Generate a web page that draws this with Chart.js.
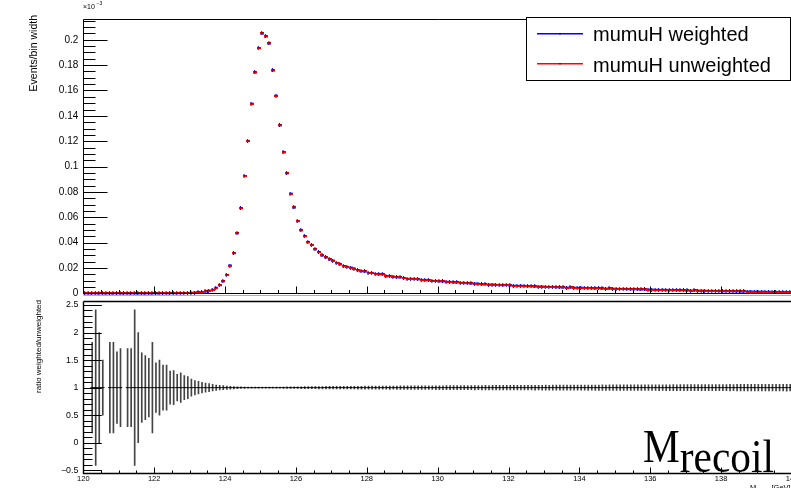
<!DOCTYPE html>
<html><head><meta charset="utf-8">
<script src="https://cdn.jsdelivr.net/npm/chart.js@4.4.1/dist/chart.umd.min.js"></script>
<style>
html,body{margin:0;padding:0;background:#fff;overflow:hidden;width:791px;height:488px;}
#wrap{position:relative;width:791px;height:488px;overflow:hidden;background:#fff;}
canvas{position:absolute;left:0;}
#c1{top:0;} #c2{top:296px;}
</style></head><body>
<div id="wrap"><canvas id="c1" width="800" height="300"></canvas><canvas id="c2" width="800" height="192"></canvas></div>
<script>
// ---- axis ranges / tick labels ----
const X_MIN = 120, X_MAX = 140, BIN_WIDTH = 0.1;
const xTicks = [120,122,124,126,128,130,132,134,136,138,140];
const xTickLabels = ['120','122','124','126','128','130','132','134','136','138','140'];
const yTopTicks = [0,0.02,0.04,0.06,0.08,0.1,0.12,0.14,0.16,0.18,0.2];
const yTopTickLabels = ['0','0.02','0.04','0.06','0.08','0.1','0.12','0.14','0.16','0.18','0.2'];
const yRatioTicks = [-0.5,0,0.5,1,1.5,2,2.5];
const yRatioTickLabels = ['\u22120.5','0','0.5','1','1.5','2','2.5'];

// ---- Events / bin width (units of 1e-3), 200 bins of 0.1 GeV from 120 to 140 ----
const weighted = [
0,0,0.00002,0.000005,0.00001,0.00004,0,0.00002,0.00002,0.00002,
0.00002,0,0.00002,0.00002,0.000005,0.00001,0.00003,0.00003,0.00004,0.00002,
0.00005,0.00004,0.00006,0.00006,0.00011,0.0001,0.00017,0.00014,0.0002,0.00025,
0.0004,0.0006,0.0008,0.0011,0.0015,0.0021,0.0028,0.0043,0.0064,0.0095,
0.0145,0.0219,0.0316,0.0474,0.0671,0.0925,0.1201,0.1496,0.1742,0.1934,
0.2050,0.2026,0.1971,0.1758,0.1559,0.1325,0.1112,0.0947,0.0786,0.0677,
0.0569,0.0497,0.0451,0.0403,0.0381,0.0348,0.0325,0.0299,0.0283,0.0267,
0.0258,0.0240,0.0229,0.0214,0.0208,0.0203,0.0195,0.0182,0.0174,0.0172,
0.0161,0.0161,0.0153,0.0150,0.0150,0.0135,0.0137,0.0132,0.0127,0.0127,
0.0121,0.0114,0.0114,0.0114,0.0111,0.0106,0.0103,0.0103,0.0098,0.0098,
0.0095,0.0094,0.0091,0.0090,0.0086,0.0087,0.0083,0.0082,0.0080,0.0078,
0.0077,0.0075,0.0071,0.0072,0.0069,0.0069,0.0066,0.0065,0.0064,0.0066,
0.0062,0.0060,0.0059,0.0060,0.0057,0.0056,0.0056,0.0054,0.0053,0.0053,
0.0051,0.0050,0.0050,0.0048,0.0047,0.0047,0.0045,0.0046,0.0044,0.0043,
0.0044,0.0042,0.0041,0.0041,0.0039,0.0040,0.0038,0.0037,0.0038,0.0036,
0.0035,0.0034,0.0035,0.0033,0.0032,0.0033,0.0031,0.0030,0.0030,0.0029,
0.0029,0.0028,0.0027,0.0028,0.0026,0.0026,0.0025,0.0025,0.0024,0.0024,
0.0023,0.0022,0.0023,0.0021,0.0021,0.0020,0.0019,0.0019,0.0018,0.0018,
0.0017,0.0017,0.0016,0.0016,0.0016,0.0015,0.0015,0.0014,0.0014,0.0013,
0.0013,0.0013,0.0012,0.0012,0.0011,0.0011,0.0011,0.0010,0.0010,0.0010
];
const unweighted = [
0,0,0.00002,0.000005,0.00001,0.00004,0,0.00002,0.00002,0.00002,
0.00002,0,0.00002,0.00002,0.000005,0.00001,0.00003,0.00003,0.00004,0.00002,
0.00005,0.00004,0.00006,0.00006,0.00011,0.0001,0.00017,0.00014,0.0002,0.00025,
0.0004,0.0006,0.0008,0.0011,0.0015,0.0021,0.0028,0.0043,0.0064,0.0095,
0.0145,0.0219,0.0316,0.0474,0.0671,0.0925,0.1201,0.1496,0.1742,0.1934,
0.2050,0.2026,0.1971,0.1758,0.1559,0.1325,0.1112,0.0947,0.0786,0.0677,
0.0569,0.0497,0.0451,0.0403,0.0381,0.0348,0.0325,0.0299,0.0283,0.0267,
0.0258,0.0240,0.0229,0.0214,0.0208,0.0203,0.0195,0.0182,0.0174,0.0172,
0.0161,0.0161,0.0153,0.0150,0.0150,0.0135,0.0137,0.0132,0.0127,0.0127,
0.0121,0.0114,0.0114,0.0114,0.0111,0.0106,0.0103,0.0103,0.0098,0.0098,
0.0095,0.0094,0.0091,0.0090,0.0086,0.0087,0.0083,0.0082,0.0080,0.0078,
0.0077,0.0075,0.0071,0.0072,0.0069,0.0069,0.0066,0.0065,0.0064,0.0066,
0.0062,0.0060,0.0059,0.0060,0.0057,0.0056,0.0056,0.0054,0.0053,0.0053,
0.0051,0.0050,0.0050,0.0048,0.0047,0.0047,0.0045,0.0046,0.0044,0.0043,
0.0044,0.0042,0.0041,0.0041,0.0039,0.0040,0.0038,0.0037,0.0038,0.0036,
0.0035,0.0034,0.0035,0.0033,0.0032,0.0033,0.0031,0.0030,0.0030,0.0029,
0.0029,0.0028,0.0027,0.0028,0.0026,0.0026,0.0025,0.0025,0.0024,0.0024,
0.0023,0.0022,0.0023,0.0021,0.0021,0.0020,0.0019,0.0019,0.0018,0.0018,
0.0017,0.0017,0.0016,0.0016,0.0016,0.0015,0.0015,0.0014,0.0014,0.0013,
0.0013,0.0013,0.0012,0.0012,0.0011,0.0011,0.0011,0.0010,0.0010,0.0010
];
// ---- ratio weighted/unweighted and its error (null = empty bin) ----
const ratio = [
null,null,1,1,1,1,null,1,1,1, 1,null,1,1,1,1,1,1,1,1,
1,1,1,1,1,1,1,1,1,1, 1,1,1,1,1,1,1,1,1,1,
1,1,1,1,1,1,1,1,1,1, 1,1,1,1,1,1,1,1,1,1,
1,1,1,1,1,1,1,1,1,1, 1,1,1,1,1,1,1,1,1,1,
1,1,1,1,1,1,1,1,1,1, 1,1,1,1,1,1,1,1,1,1,
1,1,1,1,1,1,1,1,1,1, 1,1,1,1,1,1,1,1,1,1,
1,1,1,1,1,1,1,1,1,1, 1,1,1,1,1,1,1,1,1,1,
1,1,1,1,1,1,1,1,1,1, 1,1,1,1,1,1,1,1,1,1,
1,1,1,1,1,1,1,1,1,1, 1,1,1,1,1,1,1,1,1,1,
1,1,1,1,1,1,1,1,1,1, 1,1,1,1,1,1,1,1,1,1
];
const ratioErr = [
null,null,0.82,1.41,1.0,0.5,null,0.82,0.82,0.65,
0.71,null,0.71,0.71,1.41,1.0,0.63,0.58,0.53,0.82,
0.45,0.5,0.41,0.41,0.30,0.31,0.24,0.27,0.22,0.20,
0.156,0.13,0.114,0.096,0.084,0.072,0.06,0.048,0.042,0.036,
0.03,0.026,0.021,0.017,0.014,0.012,0.011,0.010,0.009,0.009,
0.009,0.009,0.009,0.010,0.010,0.011,0.012,0.013,0.014,0.015,
0.016,0.017,0.018,0.019,0.019,0.020,0.021,0.021,0.022,0.022,
0.023,0.023,0.024,0.024,0.025,0.025,0.025,0.026,0.026,0.027,
0.027,0.028,0.027,0.028,0.029,0.029,0.030,0.029,0.030,0.031,
0.031,0.032,0.031,0.032,0.033,0.033,0.034,0.033,0.034,0.035,
0.035,0.035,0.036,0.036,0.037,0.036,0.037,0.038,0.037,0.038,
0.039,0.038,0.039,0.040,0.039,0.040,0.041,0.040,0.041,0.041,
0.042,0.041,0.042,0.043,0.042,0.043,0.043,0.044,0.043,0.044,
0.045,0.044,0.045,0.045,0.046,0.045,0.046,0.046,0.047,0.046,
0.047,0.047,0.048,0.047,0.048,0.048,0.049,0.048,0.049,0.049,
0.050,0.049,0.050,0.050,0.051,0.050,0.051,0.051,0.052,0.051,
0.052,0.052,0.053,0.052,0.053,0.053,0.054,0.053,0.054,0.054,
0.055,0.054,0.055,0.055,0.056,0.055,0.056,0.056,0.057,0.056,
0.057,0.057,0.058,0.057,0.058,0.058,0.059,0.058,0.059,0.059,
0.060,0.059,0.060,0.060,0.061,0.060,0.061,0.061,0.062,0.061
];

const binCenter = i => +(X_MIN + BIN_WIDTH * (i + 0.5)).toFixed(2);
const SANS = '"Liberation Sans", Arial, Helvetica, sans-serif';
const SERIF = '"Liberation Serif", "Times New Roman", Times, serif';

function marker(w, h, paint) {
  const c = document.createElement('canvas'); c.width = w; c.height = h;
  paint(c.getContext('2d')); return c;
}
const blueMark = marker(4, 4, g => { g.fillStyle = '#0000ff'; g.fillRect(0,1,4,2); g.fillRect(1,0,1,4); });
const redMark = marker(4, 2, g => { g.fillStyle = '#ff0000'; g.fillRect(0,0,4,2); g.fillStyle = '#8a0010'; g.fillRect(1,0,2,1); });

function noPad(s) { s.paddingTop = 0; s.paddingBottom = 0; }

// ---------- top pad decoration ----------
const topDecor = {
  id: 'topDecor',
  afterDraw(chart) {
    const ctx = chart.ctx, ca = chart.chartArea, xs = chart.scales.x, ys = chart.scales.y;
    const px = v => Math.round(xs.getPixelForValue(v)) + 0.5;
    const py = v => Math.round(ys.getPixelForValue(v)) + 0.5;
    const L = Math.round(ca.left) + 0.5, T = Math.round(ca.top) + 0.5, B = Math.round(ca.bottom) + 0.5, R = ca.right + 2;
    ctx.save();
    ctx.strokeStyle = '#000'; ctx.lineWidth = 1;
    ctx.beginPath();
    ctx.moveTo(L, T); ctx.lineTo(R, T);
    ctx.moveTo(L, T); ctx.lineTo(L, B); ctx.lineTo(R, B);
    for (let k = 0; k * 0.005 <= ys.max + 1e-9; k++) {
      const y = py(k * 0.005), len = (k % 4 === 0) ? 24 : 12;
      ctx.moveTo(L, y); ctx.lineTo(L + len, y);
    }
    for (let k = 0; k <= 40; k++) {
      const x = px(X_MIN + 0.5 * k), len = (k % 4 === 0) ? 7 : 3.5;
      ctx.moveTo(x, B); ctx.lineTo(x, B - len);
    }
    ctx.stroke();
    ctx.beginPath(); ctx.strokeStyle = '#b0b0b0'; ctx.moveTo(L, B + 2); ctx.lineTo(R, B + 2); ctx.stroke();

    // y title
    ctx.fillStyle = '#000';
    ctx.save(); ctx.translate(36.5, 15); ctx.rotate(-Math.PI / 2);
    ctx.font = '10.5px ' + SANS; ctx.textAlign = 'right'; ctx.textBaseline = 'alphabetic';
    ctx.fillText('Events/bin width', 0, 0); ctx.restore();
    // exponent
    ctx.font = '7px ' + SANS; ctx.textAlign = 'left';
    ctx.fillText('\u00d710', 83, 8.5);
    ctx.font = '5px ' + SANS; ctx.fillText('\u22123', 96.5, 4.5);

    // legend
    ctx.fillStyle = '#fff'; ctx.fillRect(526.5, 17.5, 264, 63);
    ctx.strokeStyle = '#000'; ctx.lineWidth = 1; ctx.strokeRect(526.5, 17.5, 264, 63);
    ctx.fillStyle = '#0000ff'; ctx.fillRect(537, 33, 46, 1.5);
    ctx.fillStyle = '#ff0000'; ctx.fillRect(537, 63, 46, 1.5);
    ctx.fillStyle = '#000'; ctx.fillRect(559.5, 33, 1, 1.5); ctx.fillRect(559.5, 63, 1, 1.5);
    ctx.font = '20px ' + SANS; ctx.textAlign = 'left';
    ctx.fillText('mumuH weighted', 593, 40.7);
    ctx.fillText('mumuH unweighted', 593, 71.7);
    ctx.restore();
  }
};

// ---------- bottom pad decoration ----------
const bottomDecor = {
  id: 'bottomDecor',
  afterDraw(chart) {
    const ctx = chart.ctx, ca = chart.chartArea, xs = chart.scales.x, ys = chart.scales.y;
    const px = v => Math.round(xs.getPixelForValue(v)) + 0.5;
    const py = v => Math.round(ys.getPixelForValue(v)) + 0.5;
    const L = Math.round(ca.left) + 0.5, T = Math.round(ca.top) + 0.5, B = Math.round(ca.bottom) + 0.5, R = ca.right + 2;
    ctx.save();
    ctx.strokeStyle = '#000'; ctx.lineWidth = 1.4;
    ctx.beginPath();
    ctx.moveTo(L, T); ctx.lineTo(R, T);
    ctx.moveTo(L, T); ctx.lineTo(L, B); ctx.lineTo(R, B);
    ctx.stroke();
    ctx.lineWidth = 1;
    ctx.beginPath();
    for (let k = -5; k <= 25; k++) {
      const y = py(k / 10), len = (k % 5 === 0) ? 18.3 : 9;
      ctx.moveTo(L, y); ctx.lineTo(L + len, y);
    }
    for (let k = 0; k <= 40; k++) {
      const x = px(X_MIN + 0.5 * k), len = (k % 4 === 0) ? 6 : 3;
      ctx.moveTo(x, B); ctx.lineTo(x, B - len);
    }
    ctx.stroke();

    ctx.fillStyle = '#000';
    ctx.save(); ctx.translate(40.5, 4); ctx.rotate(-Math.PI / 2);
    ctx.font = '8px ' + SANS; ctx.textAlign = 'right'; ctx.textBaseline = 'alphabetic';
    ctx.fillText('ratio weighted/unweighted', 0, 0); ctx.restore();

    // big label
    ctx.save(); ctx.translate(643, 166); ctx.scale(0.88, 1);
    ctx.font = '47px ' + SERIF; ctx.textAlign = 'left'; ctx.textBaseline = 'alphabetic';
    ctx.fillText('M', 0, 0);
    const mw = ctx.measureText('M').width;
    ctx.fillText('recoil', mw, 10);
    ctx.restore();

    // x-axis title (mostly cut at the bottom edge)
    ctx.font = '7.5px ' + SANS; ctx.textAlign = 'left';
    ctx.fillText('M', 750, 194);
    ctx.font = '5px ' + SANS; ctx.fillText('recoil', 756.5, 196);
    ctx.font = '7.5px ' + SANS; ctx.fillText('[GeV]', 771.5, 194);
    ctx.restore();
  }
};

const commonOpts = { responsive: false, animation: false, events: [], plugins: { legend: { display: false }, tooltip: { enabled: false } } };

// ---------- top chart ----------
new Chart(document.getElementById('c1'), {
  type: 'scatter',
  data: { datasets: [
    { label: 'mumuH unweighted', data: unweighted.map((v, i) => ({ x: binCenter(i), y: v })),
      pointStyle: redMark, pointRadius: 2, showLine: false, clip: false },
    { label: 'mumuH weighted', data: weighted.map((v, i) => ({ x: binCenter(i), y: v })),
      pointStyle: blueMark, pointRadius: 2, showLine: false, clip: false }
  ]},
  options: Object.assign({}, commonOpts, {
    layout: { padding: { left: 0, right: 8, top: 18.5, bottom: 6.7 } },
    scales: {
      x: { type: 'linear', min: X_MIN, max: X_MAX, display: false },
      y: { type: 'linear', min: 0, max: 0.2168,
        afterFit: s => { s.width = 83.3; noPad(s); },
        afterBuildTicks: s => { s.ticks = yTopTicks.map(v => ({ value: v })); },
        grid: { display: false, drawTicks: false }, border: { display: false },
        ticks: { padding: 5, color: '#000', font: { family: SANS, size: 10 }, autoSkip: false,
          callback: (v, i) => yTopTickLabels[i] } }
    }
  }),
  plugins: [topDecor]
});

// ---------- ratio chart ----------
const ratioPts = [], errBars = [];
ratio.forEach((r, i) => {
  if (r === null) return;
  ratioPts.push({ x: binCenter(i), y: r });
  errBars.push({ x: binCenter(i), y: [r - ratioErr[i], r + ratioErr[i]] });
});
new Chart(document.getElementById('c2'), {
  type: 'bar',
  data: { datasets: [
    { type: 'line', label: 'ratio', data: ratioPts, showLine: false, pointStyle: 'line',
      pointRadius: 1.8, borderColor: '#000', borderWidth: 1, clip: false },
    { type: 'bar', label: 'ratio error', data: errBars, barThickness: 1, backgroundColor: '#444',
      borderWidth: 0, grouped: false }
  ]},
  options: Object.assign({}, commonOpts, {
    layout: { padding: { left: 0, right: 8, top: 3.3, bottom: 0 } },
    scales: {
      x: { type: 'linear', min: X_MIN, max: X_MAX, offset: false,
        afterFit: s => { s.height = 15.3; s.paddingLeft = 0; s.paddingRight = 0; },
        afterBuildTicks: s => { s.ticks = xTicks.map(v => ({ value: v })); },
        grid: { display: false, drawTicks: false, offset: false }, border: { display: false },
        ticks: { padding: 2, color: '#000', font: { family: SANS, size: 7.5 }, autoSkip: false, maxRotation: 0,
          callback: (v, i) => xTickLabels[i] } },
      y: { type: 'linear', min: -0.543, max: 2.572,
        afterFit: s => { s.width = 83.3; noPad(s); },
        afterBuildTicks: s => { s.ticks = yRatioTicks.map(v => ({ value: v })); },
        grid: { display: false, drawTicks: false }, border: { display: false },
        ticks: { padding: 5, color: '#000', font: { family: SANS, size: 8.8 }, autoSkip: false,
          callback: (v, i) => yRatioTickLabels[i] } }
    }
  }),
  plugins: [bottomDecor]
});
</script>
</body></html>
